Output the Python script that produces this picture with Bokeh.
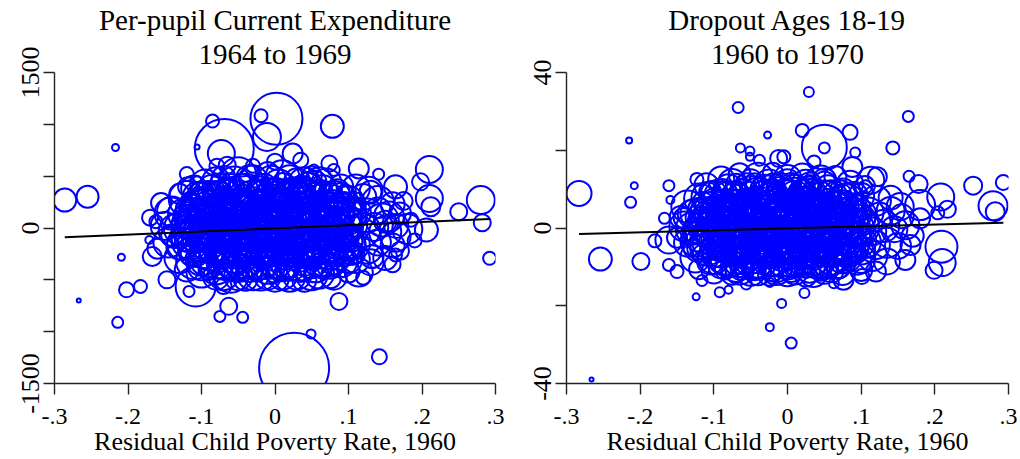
from bokeh.plotting import figure
from bokeh.layouts import row
from bokeh.models import FixedTicker, Range1d, CustomJSTickFormatter, Title
from bokeh.embed import file_html
from bokeh.resources import INLINE

# ---------------- data: left panel (per-pupil current expenditure change) ----------------
exp_x_out = [-0.286, -0.255, -0.217, -0.267, -0.209, -0.202, -0.183, -0.214, 0.002, -0.019,
             -0.011, -0.085, -0.069, 0.078, 0.074, 0.026, 0.049, 0.142, 0.087, -0.075,
             -0.044, -0.063, 0.280, 0.282, 0.292, 0.250, 0.210, 0.206, 0.210, 0.198,
             0.212, 0.164, 0.114, 0.141, 0.164, 0.114, 0.076, -0.108, -0.147, -0.117,
             -0.142, -0.162, -0.167, -0.171, -0.119, -0.106, -0.106, -0.073, -0.079, -0.065,
             0.024, 0.035, 0.053, 0.046, 0.146, 0.164, 0.132, 0.128]
exp_y_out = [269, 301, 776, -699, -282, -596, -564, -910, 1054, 1083,
             878, 1032, 766, 981, 622, -1349, -1022, -1243, -708, -853,
             -862, -756, 269, 51, -292, 157, 564, -19, 285, 445,
             205, 397, 574, 519, -260, -430, -484, -564, -500, -612,
             141, 61, -276, -115, 397, 461, 782, 718, 596, 606,
             718, 654, 564, 461, 77, -83, -276, 365]
exp_w_out = [23, 22, 7, 4, 7, 15, 13, 11, 52, 13,
             28, 13, 59, 23, 16, 70, 9, 15, 17, 11,
             11, 17, 28, 17, 13, 17, 27, 23, 27, 17,
             19, 23, 20, 11, 13, 28, 20, 40, 17, 11,
             32, 13, 19, 8, 19, 8, 5, 27, 15, 17,
             20, 15, 10, 17, 33, 30, 23, 27]

exp_x_core = [-0.095, -0.07, -0.05, -0.03, -0.01, 0.01, 0.03, 0.05, 0.07, -0.11, 0.09, 0.11, 0.13, -0.13,
              -0.12, -0.1, -0.08, -0.06, -0.04, -0.02, 0.0, 0.02, 0.04, 0.06, 0.08, 0.1, 0.12, 0.14, 0.16,
              -0.14, -0.12, -0.1, -0.085, -0.07, -0.055, -0.04, -0.025, -0.01, 0.005, 0.02, 0.035, 0.05, 0.065, 0.08, 0.095, 0.11, 0.125, 0.14, 0.155, 0.17,
              -0.15, -0.135, -0.12, -0.105, -0.09, -0.075, -0.06, -0.045, -0.03, -0.015, 0.0, 0.015, 0.03, 0.045, 0.06, 0.075, 0.09, 0.105, 0.12, 0.135, 0.15, 0.165, 0.18,
              -0.145, -0.13, -0.115, -0.1, -0.085, -0.07, -0.055, -0.04, -0.025, -0.01, 0.005, 0.02, 0.035, 0.05, 0.065, 0.08, 0.095, 0.11, 0.125, 0.14, 0.16,
              -0.13, -0.11, -0.09, -0.07, -0.05, -0.03, -0.01, 0.01, 0.03, 0.05, 0.07, 0.09, 0.11, 0.13, 0.15,
              -0.1, -0.08, -0.06, -0.04, -0.02, 0.0, 0.02, 0.04, 0.06, 0.08, -0.12, 0.1,
              -0.065, -0.035, -0.005, 0.025, 0.055, -0.095, 0.085, -0.045, 0.015, 0.045, -0.015, -0.075, 0.075, -0.11, 0.105, -0.02, 0.04, -0.06, 0.02, -0.14, 0.15, -0.16, 0.17, -0.155, 0.175,
              -0.12, 0.08, 0.0, -0.03, 0.12, -0.07, 0.185, -0.17, 0.19, 0.16]
exp_y_core = [420, 480, 510, 470, 530, 490, 450, 500, 430, 380, 400, 380, 350, 330,
              280, 310, 260, 330, 290, 340, 300, 320, 270, 330, 290, 260, 300, 250, 230,
              160, 120, 180, 140, 170, 110, 190, 130, 170, 120, 180, 140, 160, 110, 170, 130, 150, 120, 170, 110, 140,
              20, -30, 40, -10, 30, -40, 10, -20, 40, -30, 10, -40, 30, -10, 20, -30, 0, 30, -20, 10, -40, 20, -10,
              -140, -180, -120, -170, -130, -190, -140, -170, -120, -180, -140, -190, -130, -170, -140, -180, -130, -160, -190, -140, -170,
              -290, -320, -280, -330, -300, -340, -290, -330, -300, -340, -290, -320, -300, -330, -290,
              -430, -470, -450, -490, -440, -480, -460, -500, -440, -470, -400, -420,
              60, -80, 80, -90, 70, -70, -60, 240, 240, -240, -240, -250, 220, 220, -240, 400, 390, -390, -380, -70, 60, -200, -220, 240, 260,
              520, 560, 640, 600, -480, -560, 80, 100, -120, -350]
exp_w_core = [30, 24, 36, 28, 22, 34, 26, 20, 30, 26, 24, 28, 22, 20,
              36, 28, 40, 30, 44, 26, 38, 30, 42, 28, 34, 30, 26, 32, 24,
              30, 26, 44, 32, 36, 48, 30, 40, 34, 46, 30, 38, 32, 44, 28, 36, 30, 34, 26, 30, 22,
              28, 34, 30, 46, 36, 40, 50, 38, 44, 36, 52, 34, 42, 38, 46, 32, 40, 30, 34, 28, 32, 24, 30,
              30, 26, 38, 32, 44, 36, 48, 34, 40, 36, 46, 30, 40, 34, 42, 30, 36, 28, 32, 26, 24,
              30, 36, 40, 34, 46, 32, 42, 38, 44, 30, 38, 32, 28, 26, 24,
              30, 26, 36, 24, 34, 28, 32, 24, 30, 26, 24, 22,
              28, 30, 26, 32, 28, 26, 30, 24, 26, 28, 24, 30, 26, 22, 24, 20, 22, 22, 20, 22, 22, 20, 18, 20, 18,
              14, 12, 16, 14, 14, 16, 14, 16, 14, 16]

exp_x_dense = [-0.085, -0.06, -0.04, -0.015, 0.005, 0.025, 0.045, 0.065, 0.085,
               -0.105, -0.09, -0.07, -0.05, -0.03, -0.01, 0.005, 0.03, 0.05, 0.065, 0.09,
               -0.115, -0.095, -0.08, -0.06, -0.04, -0.02, -0.005, 0.01, 0.03, 0.045, 0.065, 0.08, 0.1,
               -0.12, -0.1, -0.08, -0.065, -0.05, -0.03, -0.01, 0.005, 0.02, 0.04, 0.055, 0.07, 0.095,
               -0.11, -0.09, -0.07, -0.055, -0.035, -0.02, 0.0, 0.02, 0.035, 0.055, 0.075, 0.095,
               -0.1, -0.08, -0.055, -0.035, -0.01, 0.01, 0.035, 0.055, 0.075,
               -0.025, 0.0, 0.02, -0.045, 0.04, -0.07, 0.06, -0.09, 0.08, -0.005, 0.015, -0.035, 0.03, -0.055, 0.05,
               -0.08, -0.055, -0.035, -0.005, 0.02, 0.04, 0.06,
               -0.105, -0.09, -0.07, -0.05, -0.03, -0.01, 0.01, 0.03, 0.05, 0.07, 0.09,
               -0.125, -0.108, -0.092, -0.078, -0.062, -0.047, -0.033, -0.018, -0.003, 0.012, 0.027, 0.042, 0.058, 0.073, 0.088, 0.103,
               -0.128, -0.112, -0.097, -0.083, -0.068, -0.052, -0.037, -0.022, -0.008, 0.008, 0.022, 0.037, 0.052, 0.068, 0.083, 0.098,
               -0.125, -0.108, -0.092, -0.078, -0.062, -0.047, -0.033, -0.018, -0.003, 0.012, 0.027, 0.042, 0.058, 0.073, 0.088, 0.103,
               -0.1, -0.08, -0.06, -0.04, -0.02, 0.0, 0.02, 0.04, 0.06, 0.08, 0.1,
               -0.07, -0.05, -0.03, -0.01, 0.01, 0.03, 0.05]
exp_y_dense = [370, 395, 360, 385, 410, 365, 390, 375, 355,
               210, 230, 205, 225, 200, 215, 190, 230, 205, 220, 200,
               80, 60, 95, 70, 85, 55, 100, 65, 90, 75, 50, 95, 70,
               -70, -90, -60, -100, -75, -55, -95, -65, -85, -70, -100, -80, -90,
               -220, -235, -210, -240, -225, -205, -230, -215, -245, -220, -235, -210,
               -370, -390, -365, -395, -375, -360, -385, -370, -365,
               150, -20, 260, -300, -150, 130, -200, -30, 30, 330, -330, -10, 170, 180, 60,
               450, 440, 480, 455, 470, 430, 460,
               300, 280, 310, 275, 315, 285, 305, 290, 315, 280, 300,
               135, 115, 150, 125, 140, 160, 120, 145, 155, 130, 115, 150, 135, 160, 120, 140,
               -5, 15, -25, 5, -15, 25, -5, 15, -25, 5, -15, 25, -5, 15, -25, 5,
               -155, -165, -150, -175, -160, -150, -180, -155, -165, -150, -175, -160, -150, -170, -155, -165,
               -305, -315, -295, -320, -300, -310, -325, -295, -315, -305, -300,
               -455, -465, -445, -470, -450, -460, -445]
exp_w_dense = [30, 26, 34, 28, 32, 26, 30, 28, 24,
               32, 28, 36, 30, 40, 34, 30, 38, 32, 30, 28,
               30, 34, 28, 38, 32, 40, 30, 36, 32, 38, 30, 34, 28,
               32, 28, 36, 30, 40, 34, 38, 30, 36, 32, 38, 30, 28,
               32, 36, 30, 40, 34, 30, 38, 32, 36, 30, 34, 28,
               28, 32, 30, 26, 34, 30, 28, 32, 26,
               42, 46, 36, 40, 44, 38, 40, 36, 38, 30, 32, 44, 36, 34, 40,
               28, 32, 26, 30, 28, 32, 26,
               30, 36, 32, 38, 30, 40, 34, 36, 30, 34, 28,
               30, 36, 32, 40, 34, 38, 42, 36, 40, 44, 34, 38, 32, 36, 30, 32,
               34, 30, 38, 42, 36, 44, 40, 46, 38, 42, 40, 36, 44, 38, 34, 32,
               32, 36, 34, 40, 38, 42, 36, 44, 40, 38, 42, 36, 40, 34, 32, 30,
               32, 36, 38, 34, 40, 36, 38, 34, 32, 30, 28,
               30, 28, 32, 26, 30, 28, 32]

exp_x_small = [-0.075, -0.045, -0.02, 0.01, 0.035, 0.055,
               -0.1, -0.085, -0.065, -0.045, -0.025, -0.005, 0.015, 0.035, 0.055, 0.075, 0.095,
               -0.115, -0.098, -0.082, -0.066, -0.05, -0.034, -0.018, -0.002, 0.014, 0.03, 0.046, 0.062, 0.078, 0.094, 0.11,
               -0.12, -0.104, -0.088, -0.072, -0.056, -0.04, -0.024, -0.008, 0.008, 0.024, 0.04, 0.056, 0.072, 0.088, 0.104,
               -0.122, -0.106, -0.09, -0.074, -0.058, -0.042, -0.026, -0.01, 0.006, 0.022, 0.038, 0.054, 0.07, 0.086, 0.102,
               -0.124, -0.108, -0.092, -0.076, -0.06, -0.044, -0.028, -0.012, 0.004, 0.02, 0.036, 0.052, 0.068, 0.084, 0.1,
               -0.12, -0.104, -0.088, -0.072, -0.056, -0.04, -0.024, -0.008, 0.008, 0.024, 0.04, 0.056, 0.072, 0.088, 0.104,
               -0.115, -0.098, -0.082, -0.066, -0.05, -0.034, -0.018, -0.002, 0.014, 0.03, 0.046, 0.062, 0.078, 0.094, 0.11,
               -0.09, -0.07, -0.05, -0.025, 0.0, 0.02, 0.04, 0.065]
exp_y_small = [425, 440, 415, 435, 420, 445,
               345, 330, 350, 335, 355, 325, 345, 335, 350, 340, 330,
               250, 265, 245, 260, 255, 270, 245, 260, 250, 265, 255, 245, 260, 250, 255,
               185, 175, 190, 170, 185, 175, 195, 180, 170, 190, 175, 185, 170, 180, 190,
               105, 95, 110, 100, 90, 110, 95, 105, 90, 110, 100, 95, 105, 90, 100,
               -45, -35, -50, -40, -30, -50, -35, -45, -30, -50, -40, -35, -45, -30, -40,
               -115, -125, -110, -130, -120, -110, -125, -115, -130, -110, -120, -125, -115, -110, -125,
               -265, -275, -260, -280, -270, -260, -285, -265, -275, -260, -280, -270, -265, -275, -260,
               -405, -415, -400, -420, -410, -400, -415, -405]
exp_w_small = [20, 18, 22, 20, 18, 22,
               22, 20, 24, 18, 22, 20, 24, 22, 18, 20, 18,
               20, 24, 18, 22, 26, 20, 24, 22, 26, 20, 24, 18, 22, 20, 18,
               22, 20, 24, 26, 22, 28, 24, 26, 22, 24, 26, 20, 24, 22, 20,
               24, 20, 26, 22, 28, 24, 26, 22, 28, 24, 22, 26, 20, 24, 22,
               22, 26, 20, 24, 28, 22, 26, 24, 28, 22, 26, 24, 20, 22, 20,
               24, 20, 26, 22, 28, 24, 26, 22, 28, 24, 22, 26, 20, 24, 22,
               20, 24, 18, 22, 26, 20, 24, 22, 26, 20, 24, 18, 22, 20, 18,
               20, 18, 22, 20, 24, 18, 20, 18]

exp_fit_intercept = -3.0
exp_fit_slope = 305.0

# ---------------- data: right panel (dropout ages 18-19 change) ----------------
drop_x_out = [-0.283, -0.254, -0.215, -0.208, -0.213, -0.199, -0.266, -0.180, -0.161, -0.123,
              -0.159, -0.167, -0.067, 0.029, 0.164, -0.027, 0.050, 0.050, 0.020, 0.085,
              -0.064, -0.051, -0.051, -0.038, -0.012, -0.005, 0.036, 0.092, 0.088, 0.143,
              0.165, 0.178, 0.252, 0.293, 0.279, 0.282, 0.208, 0.217, 0.204, 0.180,
              0.209, 0.210, 0.199, 0.160, 0.167, 0.153, 0.106, 0.122, -0.124, -0.092,
              -0.080, -0.056, -0.024, -0.008, 0.005, 0.023, -0.024, -0.116, -0.150, -0.161,
              -0.136, -0.141, -0.161, 0.063, 0.076, 0.101, 0.113]
drop_y_out = [8.9, -8.0, 22.5, 10.9, 6.6, -8.6, -39.0, -3.3, 10.9, 12.5,
              7.2, 2.5, 31.0, 35.0, 28.7, 23.9, 20.8, 20.6, 25.1, 24.6,
              20.6, 19.8, 18.3, 17.4, 17.9, 18.3, 17.0, 19.4, 15.7, 20.6,
              13.3, 11.3, 10.9, 11.7, 5.7, 4.2, 8.0, 4.8, 3.9, 5.9,
              -4.8, -8.9, -10.9, -8.2, -4.4, 5.5, 10.6, 13.2, -17.7, -16.5,
              -15.9, -14.4, -25.5, -19.4, -29.6, -16.7, -14.0, -13.5, -11.2, -9.5,
              5.5, 2.6, -3.1, -14.2, -13.3, -12.5, 12.3]
drop_w_out = [25, 23, 6, 7, 11, 17, 4, 13, 11, 13,
              8, 11, 11, 10, 11, 7, 45, 11, 13, 15,
              9, 9, 8, 11, 17, 13, 13, 10, 20, 13,
              11, 18, 18, 15, 29, 19, 27, 17, 13, 30,
              32, 27, 17, 20, 20, 27, 13, 19, 7, 10,
              8, 11, 8, 9, 11, 10, 9, 11, 13, 12,
              32, 20, 27, 10, 20, 15, 27]

drop_x_core = [-0.09, -0.065, -0.04, -0.02, 0.0, 0.02, 0.045, 0.065, -0.11, 0.085, 0.105,
               -0.12, -0.1, -0.08, -0.06, -0.04, -0.02, 0.0, 0.02, 0.04, 0.06, 0.08, 0.1, 0.12, 0.14,
               -0.13, -0.115, -0.1, -0.085, -0.07, -0.055, -0.04, -0.025, -0.01, 0.005, 0.02, 0.035, 0.05, 0.065, 0.08, 0.095, 0.11, 0.125, 0.14, 0.155,
               -0.14, -0.125, -0.11, -0.095, -0.08, -0.065, -0.05, -0.035, -0.02, -0.005, 0.01, 0.025, 0.04, 0.055, 0.07, 0.085, 0.1, 0.115, 0.13, 0.145, 0.16,
               -0.135, -0.12, -0.105, -0.09, -0.075, -0.06, -0.045, -0.03, -0.015, 0.0, 0.015, 0.03, 0.045, 0.06, 0.075, 0.09, 0.105, 0.12, 0.135, 0.15,
               -0.125, -0.105, -0.085, -0.065, -0.045, -0.025, -0.005, 0.015, 0.035, 0.055, 0.075, 0.095, 0.115, 0.135,
               -0.1, -0.075, -0.05, -0.025, 0.0, 0.025, 0.05, 0.075, 0.1, -0.12, 0.12,
               -0.055, -0.015, 0.025, 0.065, -0.075, -0.035, 0.005, 0.045, -0.045, 0.015, 0.085, -0.105, 0.03, -0.03, 0.01, -0.06, 0.17, 0.18, -0.15, -0.145]
drop_y_core = [12.5, 13.8, 12.9, 14.2, 12.6, 13.5, 12.2, 13.1, 11.0, 11.4, 10.8,
               7.6, 8.8, 7.2, 9.0, 7.8, 8.6, 7.4, 8.9, 7.6, 8.4, 7.1, 8.2, 7.0, 7.8,
               3.6, 4.6, 3.2, 4.4, 3.4, 4.8, 3.0, 4.2, 3.6, 4.6, 3.2, 4.4, 3.8, 3.0, 4.2, 3.4, 4.0, 3.2, 4.4, 3.0,
               0.4, -0.8, 0.6, -0.4, 0.8, -0.6, 0.2, -1.0, 0.6, -0.4, 0.4, -0.8, 0.6, -0.2, 0.8, -0.6, 0.2, -0.9, 0.5, -0.3, 0.7,
               -3.8, -4.6, -3.4, -4.8, -3.6, -4.4, -3.2, -4.8, -3.6, -4.4, -3.4, -4.6, -3.8, -4.2, -3.4, -4.8, -3.6, -4.4, -3.8, -4.6,
               -7.6, -8.6, -7.4, -8.8, -7.8, -8.4, -7.6, -8.8, -7.4, -8.6, -7.8, -8.4, -7.2, -8.6,
               -11.2, -11.8, -11.0, -12.0, -11.4, -12.2, -11.0, -11.6, -10.8, -10.6, -11.2,
               6.0, 6.2, 5.8, 6.1, -6.0, -6.2, -5.8, -6.1, 1.8, -1.8, 1.6, -1.8, 10.4, 10.6, -10.0, -10.2, -2.0, 2.5, -2.5, 2.8]
drop_w_core = [26, 22, 30, 20, 28, 24, 30, 22, 24, 26, 20,
               30, 26, 36, 28, 40, 30, 38, 28, 36, 30, 34, 26, 30, 24,
               28, 24, 38, 30, 42, 32, 44, 34, 40, 32, 42, 30, 38, 32, 36, 28, 30, 26, 28, 24,
               30, 26, 36, 32, 44, 38, 48, 36, 44, 38, 46, 34, 40, 36, 42, 32, 36, 28, 32, 26, 28,
               28, 32, 36, 30, 42, 36, 46, 34, 42, 38, 44, 32, 40, 34, 38, 30, 32, 28, 30, 26,
               30, 26, 36, 30, 40, 32, 38, 30, 36, 32, 30, 28, 30, 26,
               24, 22, 30, 22, 28, 22, 26, 24, 22, 20, 20,
               28, 30, 26, 28, 30, 26, 30, 28, 30, 32, 26, 28, 22, 24, 22, 20, 22, 20, 20, 22]

drop_x_dense = [-0.08, -0.055, -0.03, -0.01, 0.01, 0.03, 0.055, 0.075,
                -0.105, -0.09, -0.07, -0.045, -0.025, -0.005, 0.015, 0.035, 0.055, 0.075, 0.095,
                -0.115, -0.095, -0.075, -0.06, -0.035, -0.015, 0.0, 0.03, 0.045, 0.06, 0.075, 0.1,
                -0.12, -0.1, -0.085, -0.07, -0.05, -0.03, -0.01, 0.005, 0.025, 0.04, 0.06, 0.075, 0.095,
                -0.11, -0.09, -0.065, -0.05, -0.02, 0.0, 0.025, 0.035, 0.06, 0.08, 0.1,
                -0.09, -0.07, -0.04, -0.015, 0.005, 0.03, 0.05, 0.07,
                -0.06, -0.03, 0.0, 0.02, 0.05, -0.08, 0.065, -0.045, 0.01, -0.02, 0.04, -0.1, 0.09, -0.005, 0.03,
                -0.075, -0.05, -0.025, 0.0, 0.025, 0.05,
                -0.11, -0.09, -0.07, -0.05, -0.03, -0.01, 0.01, 0.03, 0.05, 0.07, 0.09,
                -0.125, -0.11, -0.095, -0.08, -0.065, -0.05, -0.035, -0.02, -0.005, 0.01, 0.025, 0.04, 0.055, 0.07, 0.085, 0.1,
                -0.13, -0.115, -0.1, -0.085, -0.07, -0.055, -0.04, -0.025, -0.01, 0.005, 0.02, 0.035, 0.05, 0.065, 0.08, 0.095,
                -0.125, -0.11, -0.095, -0.08, -0.065, -0.05, -0.035, -0.02, -0.005, 0.01, 0.025, 0.04, 0.055, 0.07, 0.085, 0.1,
                -0.1, -0.08, -0.06, -0.04, -0.02, 0.0, 0.02, 0.04, 0.06, 0.08, 0.1,
                -0.065, -0.04, -0.015, 0.01, 0.035, 0.06]
drop_y_dense = [10.2, 11.0, 9.8, 10.8, 9.6, 11.2, 10.0, 9.4,
                5.4, 6.4, 5.2, 6.6, 5.6, 5.0, 6.8, 5.2, 6.2, 5.6, 5.0,
                1.6, 2.2, 1.2, 2.4, 1.0, 2.0, 1.4, 2.2, 1.2, 2.0, 1.6, 2.4,
                -2.2, -1.6, -2.6, -1.4, -2.4, -1.8, -2.6, -1.4, -2.2, -1.6, -2.6, -2.0, -1.6,
                -5.6, -6.6, -5.2, -6.8, -5.4, -6.4, -5.6, -6.9, -5.4, -6.2, -5.8,
                -9.6, -10.0, -9.2, -9.8, -9.4, -10.2, -9.6, -9.8,
                3.0, -3.0, 0.0, 6.0, -2.0, -4.0, 4.0, -7.0, 8.0, 1.0, -8.0, 2.0, -3.0, -6.0, 3.0,
                11.6, 12.0, 11.2, 11.8, 11.4, 12.2,
                7.9, 8.2, 7.6, 8.4, 7.8, 8.0, 8.3, 7.7, 8.1, 7.9, 8.2,
                3.7, 3.3, 4.0, 3.5, 3.9, 3.4, 3.8, 3.2, 4.1, 3.6, 3.9, 3.3, 4.0, 3.5, 3.8, 3.4,
                -0.2, 0.3, -0.4, 0.1, -0.3, 0.4, -0.1, 0.2, -0.5, 0.3, -0.2, 0.1, -0.4, 0.2, -0.1, 0.3,
                -3.5, -3.9, -3.3, -4.0, -3.6, -3.2, -4.1, -3.7, -3.4, -3.9, -3.5, -4.0, -3.3, -3.8, -3.6, -3.4,
                -7.7, -8.0, -7.5, -8.2, -7.8, -8.1, -7.6, -8.3, -7.9, -7.6, -8.0,
                -11.0, -11.4, -10.8, -11.2, -11.6, -10.9]
drop_w_dense = [28, 24, 30, 26, 32, 24, 28, 26,
                30, 26, 36, 30, 38, 32, 30, 36, 30, 32, 26,
                30, 34, 28, 38, 32, 40, 36, 34, 38, 30, 34, 28,
                30, 34, 30, 40, 34, 38, 32, 40, 34, 36, 32, 38, 28,
                32, 28, 36, 30, 38, 32, 36, 30, 34, 30, 28,
                26, 30, 28, 32, 26, 30, 28, 24,
                44, 46, 50, 36, 42, 38, 40, 36, 32, 44, 34, 32, 34, 40, 42,
                28, 24, 30, 26, 28, 24,
                30, 34, 32, 38, 34, 40, 36, 38, 32, 34, 28,
                30, 34, 32, 40, 36, 42, 38, 44, 40, 42, 38, 40, 36, 34, 32, 30,
                32, 30, 38, 42, 40, 44, 46, 42, 48, 44, 42, 40, 42, 38, 34, 32,
                30, 34, 36, 40, 38, 44, 40, 42, 44, 40, 38, 40, 36, 34, 32, 30,
                32, 36, 34, 38, 36, 40, 34, 36, 32, 30, 28,
                28, 26, 30, 26, 28, 24]

drop_x_small = [-0.07, -0.045, -0.02, 0.005, 0.03, 0.05,
                -0.105, -0.088, -0.07, -0.052, -0.034, -0.016, 0.002, 0.02, 0.038, 0.056, 0.074,
                -0.115, -0.1, -0.085, -0.07, -0.055, -0.04, -0.025, -0.01, 0.005, 0.02, 0.035, 0.05, 0.065, 0.08, 0.095,
                -0.12, -0.105, -0.09, -0.075, -0.06, -0.045, -0.03, -0.015, 0.0, 0.015, 0.03, 0.045, 0.06, 0.075, 0.09,
                -0.122, -0.107, -0.092, -0.077, -0.062, -0.047, -0.032, -0.017, -0.002, 0.013, 0.028, 0.043, 0.058, 0.073, 0.088,
                -0.124, -0.109, -0.094, -0.079, -0.064, -0.049, -0.034, -0.019, -0.004, 0.011, 0.026, 0.041, 0.056, 0.071, 0.086,
                -0.12, -0.105, -0.09, -0.075, -0.06, -0.045, -0.03, -0.015, 0.0, 0.015, 0.03, 0.045, 0.06, 0.075, 0.09,
                -0.115, -0.1, -0.085, -0.07, -0.055, -0.04, -0.025, -0.01, 0.005, 0.02, 0.035, 0.05, 0.065, 0.08, 0.095,
                -0.085, -0.065, -0.045, -0.02, 0.005, 0.025, 0.045, 0.07]
drop_y_small = [11.4, 11.8, 11.2, 11.6, 11.3, 11.7,
                9.2, 9.5, 9.0, 9.6, 9.3, 9.1, 9.4, 9.7, 9.2, 9.5, 9.0,
                6.7, 7.0, 6.6, 6.9, 6.8, 7.1, 6.5, 6.9, 6.7, 7.0, 6.8, 6.5, 6.9, 6.7, 6.8,
                4.9, 4.7, 5.0, 4.6, 4.9, 4.7, 5.1, 4.8, 4.6, 5.0, 4.7, 4.9, 4.6, 4.8, 5.0,
                2.7, 2.5, 2.8, 2.6, 2.4, 2.8, 2.5, 2.7, 2.4, 2.8, 2.6, 2.5, 2.7, 2.4, 2.6,
                -1.3, -1.0, -1.4, -1.1, -0.9, -1.4, -1.0, -1.2, -0.9, -1.4, -1.1, -1.0, -1.3, -0.9, -1.1,
                -5.1, -5.3, -5.0, -5.4, -5.2, -5.0, -5.3, -5.1, -5.4, -5.0, -5.2, -5.3, -5.1, -5.0, -5.3,
                -6.8, -7.0, -6.7, -7.1, -6.9, -6.7, -7.2, -6.8, -7.0, -6.7, -7.1, -6.9, -6.8, -7.0, -6.7,
                -10.7, -11.0, -10.6, -11.1, -10.8, -10.6, -11.0, -10.7]
drop_w_small = [20, 18, 22, 20, 18, 22,
                22, 20, 24, 18, 22, 20, 24, 22, 18, 20, 18,
                20, 24, 18, 22, 26, 20, 24, 22, 26, 20, 24, 18, 22, 20, 18,
                22, 20, 24, 26, 22, 28, 24, 26, 22, 24, 26, 20, 24, 22, 20,
                24, 20, 26, 22, 28, 24, 26, 22, 28, 24, 22, 26, 20, 24, 22,
                22, 26, 20, 24, 28, 22, 26, 24, 28, 22, 26, 24, 20, 22, 20,
                24, 20, 26, 22, 28, 24, 26, 22, 28, 24, 22, 26, 20, 24, 22,
                20, 24, 18, 22, 26, 20, 24, 22, 26, 20, 24, 18, 22, 20, 18,
                20, 18, 22, 20, 24, 18, 20, 18]

drop_fit_intercept = -0.1
drop_fit_slope = 5.05

# ---------------- axes text ----------------
x_ticks = [-0.3, -0.2, -0.1, 0.0, 0.1, 0.2, 0.3]
x_tick_labels = ["-.3", "-.2", "-.1", "0", ".1", ".2", ".3"]
exp_y_ticks = [-1500, -1000, -500, 0, 500, 1000, 1500]
exp_y_labels = ["-1500", "", "", "0", "", "", "1500"]
drop_y_ticks = [-40, -20, 0, 20, 40]
drop_y_labels = ["-40", "", "0", "", "40"]
x_title = "Residual Child Poverty Rate, 1960"
exp_title = ["Per-pupil Current Expenditure", "1964 to 1969"]
drop_title = ["Dropout Ages 18-19", "1960 to 1970"]

exp_x = exp_x_out + exp_x_core + exp_x_dense + exp_x_small
exp_y = exp_y_out + exp_y_core + exp_y_dense + exp_y_small
exp_w = exp_w_out + exp_w_core + exp_w_dense + exp_w_small
drop_x = drop_x_out + drop_x_core + drop_x_dense + drop_x_small
drop_y = drop_y_out + drop_y_core + drop_y_dense + drop_y_small
drop_w = drop_w_out + drop_w_core + drop_w_dense + drop_w_small
assert len(exp_x) == len(exp_y) == len(exp_w)
assert len(drop_x) == len(drop_y) == len(drop_w)

FONT = "Liberation Serif"
FMT = "const i = t.findIndex(v => Math.abs(v - tick) < 1e-9); return i >= 0 ? l[i] : '';"
HEIGHT = 459


def style_title(t, standoff):
    t.align = "center"
    t.text_font = FONT
    t.text_font_size = "29px"
    t.text_font_style = "normal"
    t.text_color = "black"
    t.standoff = standoff


def panel(title, xs, ys, ws, b0, b1, yr, yt, yl, width, mleft, mright):
    p = figure(width=width, height=HEIGHT, x_range=Range1d(-0.3, 0.3), y_range=Range1d(-yr, yr),
               output_backend="svg", toolbar_location=None,
               min_border_left=mleft, min_border_right=mright,
               min_border_top=72, min_border_bottom=76)
    p.title.text = title[0]
    style_title(p.title, -4)
    t2 = Title(text=title[1])
    style_title(t2, 5)
    p.add_layout(t2, "above")
    p.grid.visible = False
    p.outline_line_color = None
    p.background_fill_color = "white"
    p.border_fill_color = "white"

    p.scatter(xs, ys, size=ws, marker="circle", fill_color=None,
              line_color="#0000FF", line_width=2.0)
    x0, x1 = min(xs), max(xs)
    p.line([x0, x1], [b0 + b1 * x0, b0 + b1 * x1], line_color="black", line_width=2)

    xa = p.xaxis[0]
    xa.ticker = FixedTicker(ticks=x_ticks)
    xa.formatter = CustomJSTickFormatter(args=dict(t=x_ticks, l=x_tick_labels), code=FMT)
    xa.axis_label = x_title
    xa.axis_label_text_font = FONT
    xa.axis_label_text_font_size = "26px"
    xa.axis_label_text_font_style = "normal"
    xa.axis_label_text_color = "black"
    xa.axis_label_standoff = 0
    xa.major_label_text_font = FONT
    xa.major_label_text_font_size = "24px"
    xa.major_label_text_color = "black"
    xa.major_label_standoff = 14

    ya = p.yaxis[0]
    ya.ticker = FixedTicker(ticks=yt)
    ya.formatter = CustomJSTickFormatter(args=dict(t=yt, l=yl), code=FMT)
    ya.major_label_orientation = "vertical"
    ya.major_label_text_font = FONT
    ya.major_label_text_font_size = "26px"
    ya.major_label_text_color = "black"
    ya.major_label_standoff = 5

    for a in (xa, ya):
        a.axis_line_color = "#222222"
        a.axis_line_width = 1.4
        a.major_tick_line_color = "#222222"
        a.major_tick_line_width = 1.4
        a.major_tick_out = 11
        a.major_tick_in = 0
        a.minor_tick_out = 0
        a.minor_tick_in = 0
    return p


p1 = panel(exp_title, exp_x, exp_y, exp_w, exp_fit_intercept, exp_fit_slope,
           1500, exp_y_ticks, exp_y_labels, 520, 54, 25)
p2 = panel(drop_title, drop_x, drop_y, drop_w, drop_fit_intercept, drop_fit_slope,
           40, drop_y_ticks, drop_y_labels, 500, 46, 12)

layout = row(p1, p2)
open("out.html", "w").write(file_html(layout, INLINE))
